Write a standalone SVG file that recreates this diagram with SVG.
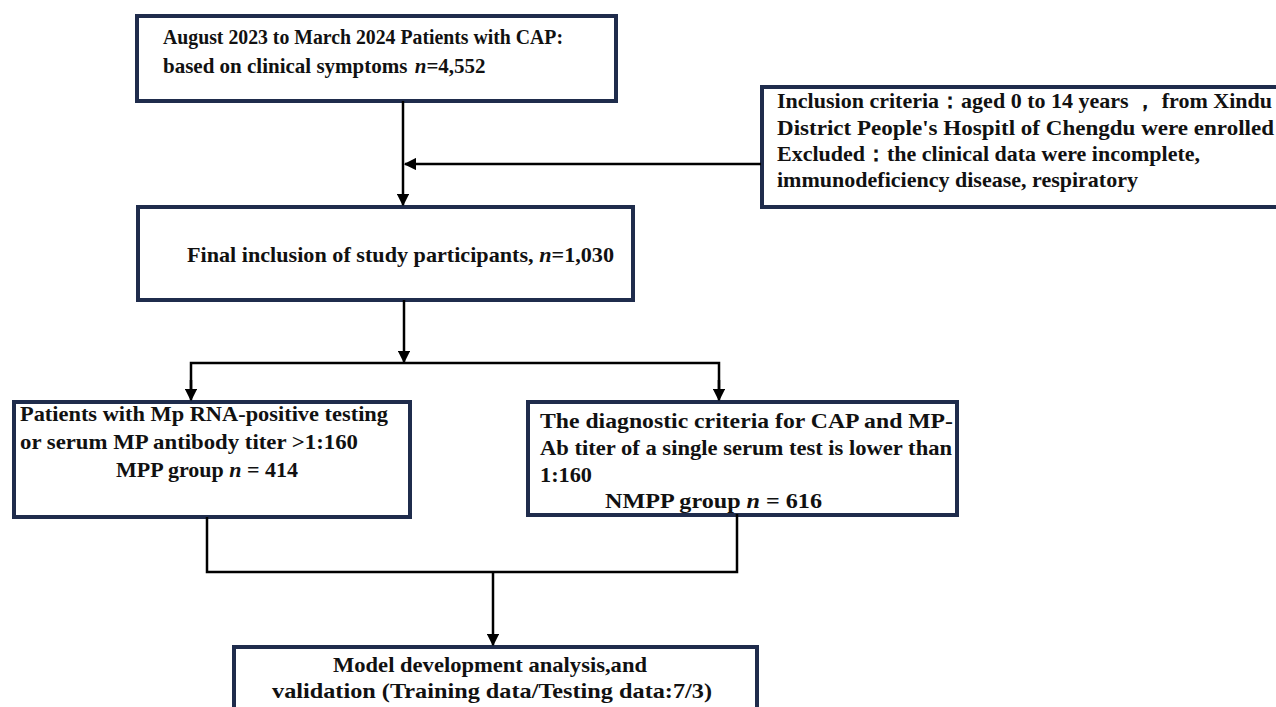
<svg xmlns="http://www.w3.org/2000/svg" width="1276" height="707" viewBox="0 0 1276 707">
<defs>
<style>
.box{fill:#fff;stroke:#1f2c4c;stroke-width:4}
.t{font-family:"Liberation Serif","Times New Roman",serif;font-weight:bold;font-size:22px;fill:#111}
.c{fill:none;stroke:#000;stroke-width:2.5}
</style>
<marker id="ah" viewBox="0 0 10 10" refX="9" refY="5" markerWidth="5" markerHeight="5" orient="auto" markerUnits="strokeWidth"><path d="M0,0 L10,5 L0,10 z" fill="#000"/></marker>
</defs>
<rect width="1276" height="707" fill="#fff"/>
<g id="n1">
<rect class="box" x="137" y="16" width="479" height="85"/>
<text class="t" x="163" y="44" textLength="400" lengthAdjust="spacingAndGlyphs">August 2023 to March 2024 Patients with CAP:</text>
<text class="t" x="163" y="73" style="font-size:21px">based on clinical symptoms <tspan font-style="italic" dx="2">n</tspan>=4,552</text>
</g>
<g id="n_excl">
<rect class="box" x="762" y="87" width="520" height="120"/>
<text class="t" x="777" y="108" textLength="495" lengthAdjust="spacingAndGlyphs">Inclusion criteria：aged 0 to 14 years ， from Xindu</text>
<text class="t" x="777" y="135" textLength="497" lengthAdjust="spacingAndGlyphs">District People's  Hospitl  of  Chengdu were enrolled</text>
<text class="t" x="777" y="161" textLength="423" lengthAdjust="spacingAndGlyphs">Excluded：the clinical data were incomplete,</text>
<text class="t" x="777" y="187" textLength="361" lengthAdjust="spacingAndGlyphs">immunodeficiency disease, respiratory</text>
</g>
<g id="n2">
<rect class="box" x="138" y="207" width="495" height="93"/>
<text class="t" x="187" y="262" textLength="427" lengthAdjust="spacingAndGlyphs">Final inclusion of study participants, <tspan font-style="italic">n</tspan>=1,030</text>
</g>
<g id="n_mpp">
<rect class="box" x="14" y="402" width="396" height="115"/>
<text class="t" x="20" y="421" textLength="368" lengthAdjust="spacingAndGlyphs">Patients with Mp RNA-positive testing</text>
<text class="t" x="20" y="449" textLength="338" lengthAdjust="spacingAndGlyphs">or  serum MP antibody titer &gt;1:160</text>
<text class="t" x="116" y="477" textLength="182" lengthAdjust="spacingAndGlyphs">MPP group <tspan font-style="italic">n</tspan> = 414</text>
</g>
<g id="n_nmpp">
<rect class="box" x="528" y="402" width="429" height="113"/>
<text class="t" x="540" y="428" textLength="413" lengthAdjust="spacingAndGlyphs">The diagnostic criteria for CAP and MP-</text>
<text class="t" x="540" y="455" textLength="412" lengthAdjust="spacingAndGlyphs">Ab titer of a single serum test is lower than</text>
<text class="t" x="540" y="482" textLength="52" lengthAdjust="spacingAndGlyphs">1:160</text>
<text class="t" x="605" y="508" textLength="217" lengthAdjust="spacingAndGlyphs">NMPP group <tspan font-style="italic">n</tspan> = 616</text>
</g>
<g id="n_model">
<rect class="box" x="234" y="647" width="523" height="70"/>
<text class="t" x="333" y="672" textLength="314" lengthAdjust="spacingAndGlyphs">Model development analysis,and</text>
<text class="t" x="272" y="698" textLength="440" lengthAdjust="spacingAndGlyphs">validation (Training data/Testing data:7/3)</text>
</g>
<g id="connectors">
<line class="c" x1="403" y1="101" x2="403" y2="205" marker-end="url(#ah)"/>
<line class="c" x1="761" y1="164" x2="405" y2="164" marker-end="url(#ah)"/>
<line class="c" x1="404" y1="300" x2="404" y2="362" marker-end="url(#ah)"/>
<polyline class="c" points="191,398 191,363 719,363 719,398"/>
<line class="c" x1="191" y1="380" x2="191" y2="400" marker-end="url(#ah)"/>
<line class="c" x1="719" y1="380" x2="719" y2="400" marker-end="url(#ah)"/>
<polyline class="c" points="207,517 207,572 737,572 737,514"/>
<line class="c" x1="493" y1="572" x2="493" y2="645" marker-end="url(#ah)"/>
</g>
</svg>
